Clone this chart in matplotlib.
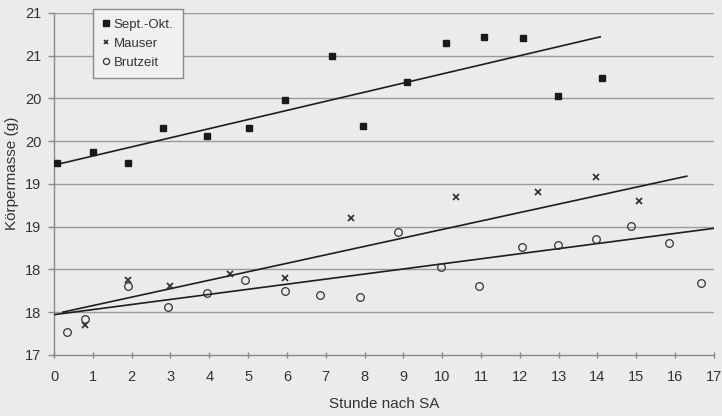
import numpy as np
import matplotlib
matplotlib.use("Agg")
import matplotlib.pyplot as plt

plt.rcParams['font.family'] = ['Liberation Sans', 'DejaVu Sans']

# Sept.-Okt. (Quadrate)
sept_x = [0.08, 1.0, 1.9, 2.8, 3.95, 5.03, 5.95, 7.17, 7.96, 9.1, 10.1, 11.08, 12.09, 12.99, 14.12]
sept_y = [19.25, 19.37, 19.25, 19.65, 19.56, 19.65, 19.98, 20.49, 19.68, 20.19, 20.65, 20.72, 20.71, 20.03, 20.24]

# Mauser (Kreuze)
maus_x = [0.8, 1.9, 3.0, 4.54, 5.95, 7.65, 10.36, 12.47, 13.97, 15.08]
maus_y = [17.35, 17.88, 17.81, 17.95, 17.9, 18.6, 18.85, 18.9, 19.08, 18.8]

# Brutzeit (Kreise)
brut_x = [0.33, 0.8, 1.9, 2.93, 3.93, 4.92, 5.95, 6.86, 7.87, 8.87, 9.97, 10.95, 12.06, 12.99, 13.97, 14.87, 15.85, 16.68]
brut_y = [17.27, 17.42, 17.8, 17.56, 17.72, 17.87, 17.75, 17.7, 17.68, 18.44, 18.03, 17.81, 18.26, 18.29, 18.36, 18.51, 18.31, 17.84]

# Trendlinien (Endpunkte aus dem Bild)
sept_trend_x = [0.1, 14.07]
sept_trend_y = [19.23, 20.72]
maus_trend_x = [0.23, 16.3]
maus_trend_y = [17.5, 19.09]
brut_trend_x = [0.0, 17.0]
brut_trend_y = [17.47, 18.48]

y_ticks = [17, 17.5, 18, 18.5, 19, 19.5, 20, 20.5, 21]
y_labels = ["17", "18", "18", "19", "19", "20", "20", "21", "21"]
x_ticks = list(range(0, 18))

bg = "#ebebeb"
fig = plt.figure(figsize=(7.22, 4.16), dpi=100, facecolor=bg)
ax = fig.add_axes([0.0748, 0.147, 0.914, 0.822], facecolor=bg)

ax.set_xlim(0, 17)
ax.set_ylim(17, 21)

for yt in y_ticks[1:]:
    ax.axhline(yt, color="#9a9a9a", lw=1.0, zorder=1)

ax.plot(sept_trend_x, sept_trend_y, color="#1e1e1e", lw=1.2, zorder=3)
ax.plot(maus_trend_x, maus_trend_y, color="#1e1e1e", lw=1.2, zorder=3)
ax.plot(brut_trend_x, brut_trend_y, color="#1e1e1e", lw=1.2, zorder=3)

ax.plot(sept_x, sept_y, ls="none", marker="s", ms=5, color="#1a1a1a",
        label="Sept.-Okt.", zorder=4)
ax.plot(maus_x, maus_y, ls="none", marker="x", ms=4, mew=1.2, color="#2a2a2a",
        label="Mauser", zorder=4)
ax.plot(brut_x, brut_y, ls="none", marker="o", ms=5.5, mfc="none", mew=0.9,
        color="#333333", label="Brutzeit", zorder=4)

ax.set_xticks(x_ticks)
ax.set_yticks(y_ticks)
ax.set_yticklabels(y_labels)

for s in ["top", "right"]:
    ax.spines[s].set_visible(False)
for s in ["left", "bottom"]:
    ax.spines[s].set_color("#8a8a8a")
    ax.spines[s].set_linewidth(1.0)

ax.tick_params(axis="both", colors="#8a8a8a", labelcolor="#333333",
               labelsize=10.5, length=4, width=1.0)
ax.tick_params(axis="x", direction="inout", pad=9)
ax.tick_params(axis="y", pad=5)

ax.set_xlabel("Stunde nach SA", fontsize=11, color="#333333", labelpad=9)
ax.set_ylabel("Körpermasse (g)", fontsize=11, color="#333333", va="center")
ax.yaxis.set_label_coords(-0.064, 0.53)

leg = ax.legend(loc="upper left", bbox_to_anchor=(0.059, 1.012), fontsize=9.5,
                frameon=True, fancybox=False, handlelength=0.5, markerscale=0.8,
                handletextpad=0.3, borderpad=0.75, labelspacing=0.5,
                borderaxespad=0)
leg.get_frame().set_edgecolor("#8a8a8a")
leg.get_frame().set_facecolor("#f0f0f0")
leg.get_frame().set_alpha(1)
leg.get_frame().set_linewidth(1.0)
for t in leg.get_texts():
    t.set_color("#333333")

fig.savefig("out.png", dpi=100, facecolor=bg)
